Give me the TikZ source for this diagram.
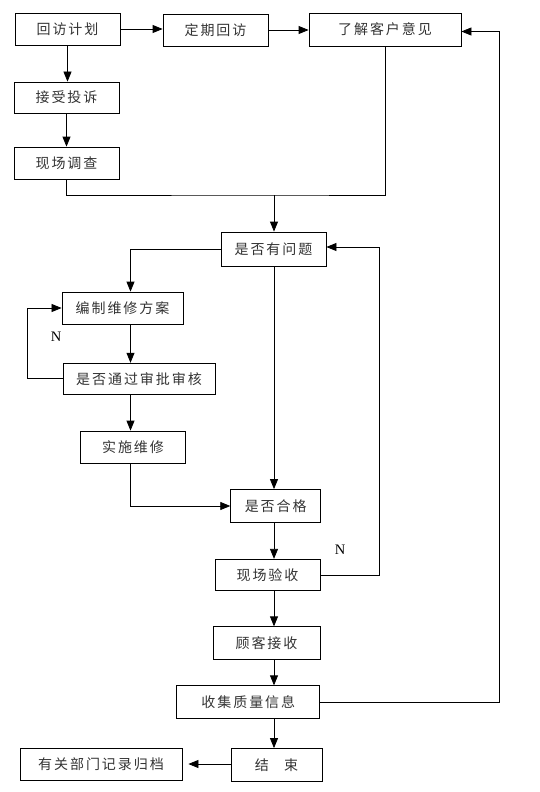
\documentclass[tikz,border=0pt]{standalone}
\usepackage{fontspec}
\setmainfont{Liberation Serif}
\newfontfamily\cjk[LetterSpace=14]{Noto Sans CJK SC}
\usetikzlibrary{arrows.meta}

\begin{document}
\begin{tikzpicture}[x=1bp, y=-1bp, line width=0.8bp,
	blk/.style={draw,inner sep=0pt,text=black!80,
		font=\cjk\fontsize{14bp}{16bp}\selectfont},
	lbl/.style={font=\fontsize{14.5bp}{16bp}\selectfont},
	arr/.style={-{Triangle[length=10bp,width=8bp]}}]
	\useasboundingbox (0,0) rectangle (540,792);
	\coordinate (col) at (130.5,0);
	\coordinate (spine) at (274,0);
	\coordinate (back) at (379.5,0);
	\coordinate (fb) at (499,0);
	\coordinate (join) at (274,195);
	% top part
	\node[blk,minimum width=105bp,minimum height=32bp] (plan) at (67.5,29) {回访计划};
	\node[blk,minimum width=105bp,minimum height=32bp] (regular) at (215.5,30) {定期回访};
	\node[blk,minimum width=152bp,minimum height=33bp] (opinion) at (385,29.5) {了解客户意见};
	\node[blk,minimum width=105bp,minimum height=31bp] (complaint) at (66.5,97.5) {接受投诉};
	\node[blk,minimum width=105bp,minimum height=32bp] (survey) at (66.5,163) {现场调查};
	\node[blk,minimum width=105bp,minimum height=34bp] (problem) at (273.5,249) {是否有问题};
	% repair loop
	\node[blk,minimum width=121bp,minimum height=32bp] (scheme) at (122.5,308) {编制维修方案};
	\node[blk,minimum width=152bp,minimum height=31bp] (approve) at (139,378.7) {是否通过审批审核};
	\node[blk,minimum width=105bp,minimum height=32bp] (repair) at (133,447) {实施维修};
	\node[blk,minimum width=90bp,minimum height=33bp] (qualified) at (275.7,506) {是否合格};
	\node[blk,minimum width=105bp,minimum height=31.5bp] (accept) at (267.5,575) {现场验收};
	% bottom part
	\node[blk,minimum width=107bp,minimum height=32.5bp] (customer) at (266.5,643) {顾客接收};
	\node[blk,minimum width=143bp,minimum height=32.5bp] (collect) at (248.3,702) {收集质量信息};
	\node[blk,minimum width=91bp,minimum height=33bp] (finish) at (276.5,765) {结\hspace{1.1em}束\hspace{0.35em}};
	\node[blk,minimum width=162bp,minimum height=32bp] (archive) at (101,764) {有关部门记录归档};
	\node[lbl] (n1) at (56,336.7) {N};
	\node[lbl] (n2) at (340,550) {N};
	% connectors
	\draw[arr] (plan.east) -- (plan.east -| regular.west);
	\draw[arr] (regular.east) -- (regular.east -| opinion.west);
	\draw[arr] (plan.south) -- (plan.south |- complaint.north);
	\draw[arr] (complaint.south) -- (survey.north);
	\draw (survey.south) |- (join) -| (opinion.south);
	\draw[arr] (join) -- (problem.north -| join);
	\draw[arr] (problem.west) -| (scheme.north -| col);
	\draw[arr] (scheme.south -| col) -- (approve.north -| col);
	\draw[arr] (approve.west) -- ++(-35,0) |- (scheme.west);
	\draw[arr] (approve.south -| col) -- (repair.north -| col);
	\draw[arr] (repair.south -| col) |- (qualified.west);
	\draw[arr] (problem.south -| spine) -- (qualified.north -| spine);
	\draw[arr] (qualified.south -| spine) -- (accept.north -| spine);
	\draw[arr] (accept.east) -| ([yshift=2bp]problem.east -| back) -- ([yshift=2bp]problem.east);
	\draw[arr] (accept.south -| spine) -- (customer.north -| spine);
	\draw[arr] (customer.south -| spine) -- (collect.north -| spine);
	\draw[arr] (collect.east) -| ([yshift=-2bp]opinion.east -| fb) -- ([yshift=-2bp]opinion.east);
	\draw[arr] (collect.south -| spine) -- (finish.north -| spine);
	\draw[arr,shorten >=6bp] (finish.west |- archive.east) -- (archive.east);
\end{tikzpicture}
\end{document}
